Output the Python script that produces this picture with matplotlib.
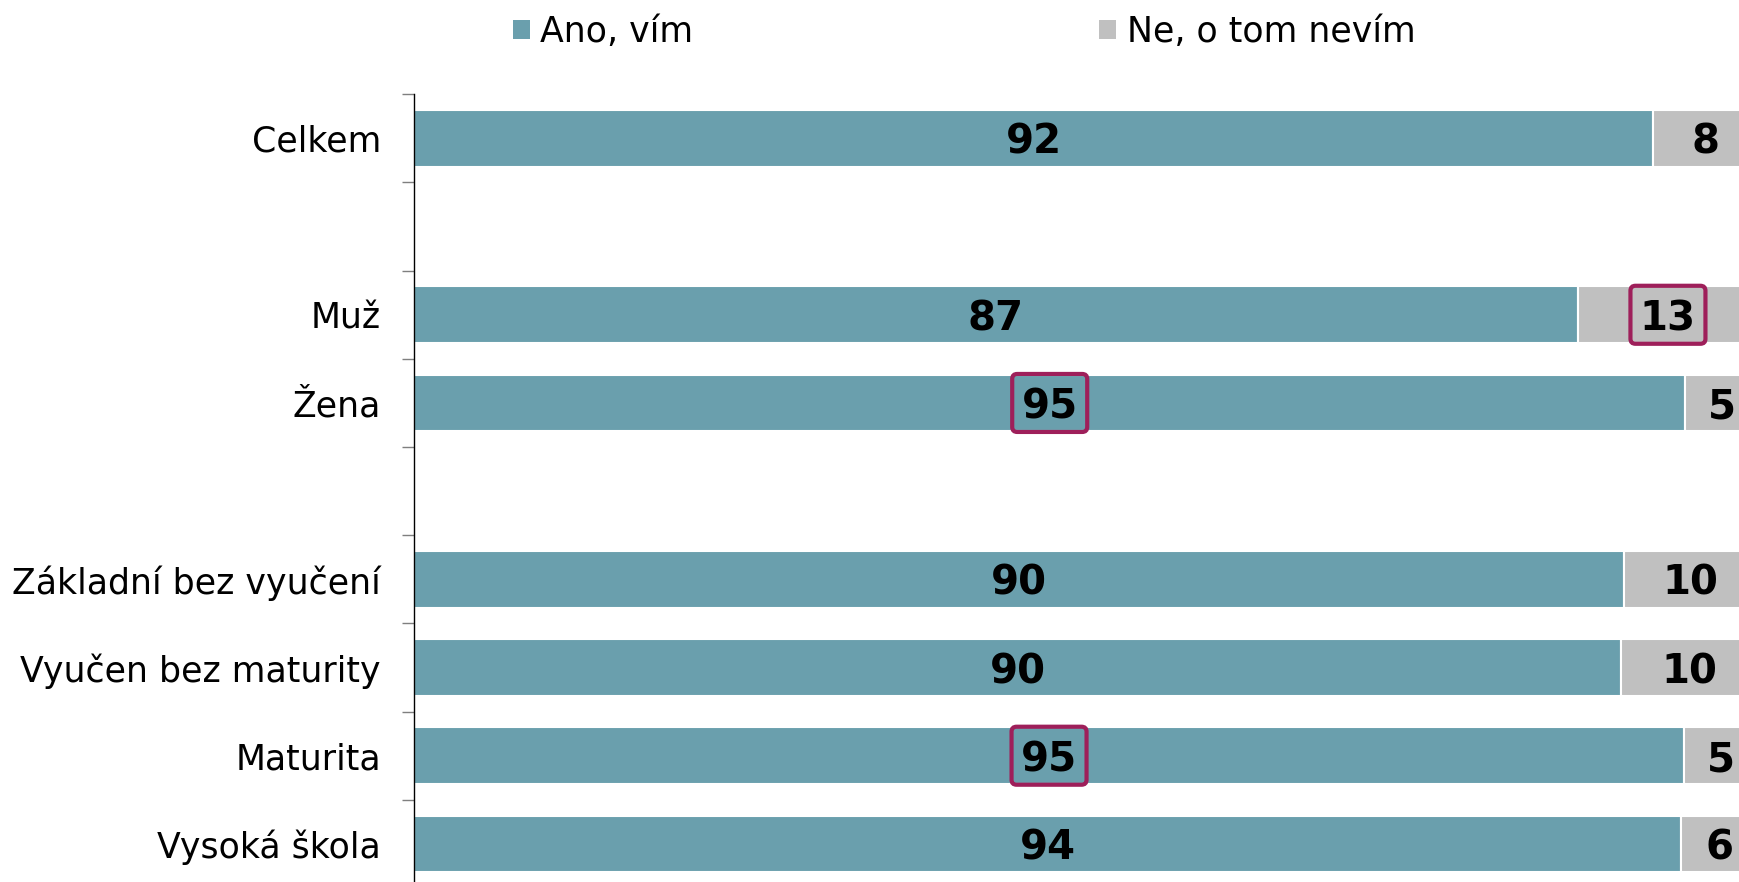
import matplotlib
matplotlib.use("Agg")
import matplotlib.pyplot as plt
from matplotlib.patches import Patch, FancyBboxPatch
from matplotlib.transforms import ScaledTranslation

plt.rcParams['font.family'] = ['DejaVu Sans']

# ---- data ----
categories = ["Celkem", "", "Muž", "Žena", "", "Základní bez vyučení",
              "Vyučen bez maturity", "Maturita", "Vysoká škola"]
ano = [92.2, None, 86.6, 94.6, None, 90.0, 89.8, 94.5, 94.3]
ne = [7.8, None, 13.4, 5.4, None, 10.0, 10.2, 5.5, 5.7]
ano_labels = ["92", "", "87", "95", "", "90", "90", "95", "94"]
ne_labels = ["8", "", "13", "5", "", "10", "10", "5", "6"]
highlight_ano = [False, False, False, True, False, False, False, True, False]
highlight_ne = [False, False, True, False, False, False, False, False, False]
series_names = ["Ano, vím", "Ne, o tom nevím"]

TEAL = "#6A9FAD"
GRAY = "#C0C0C0"
HIGHLIGHT = "#9E1F5A"
LABEL_FS = 29
BOX_W, BOX_H = 0.75, 0.58  # inches

fig = plt.figure(figsize=(17.4, 8.82), dpi=100)
ax = fig.add_axes([414 / 1740, -6 / 882, 1344 / 1740, 793.7 / 882])


def put_label(x, y, s, boxed):
    ax.text(x, y, s, ha="center", va="center_baseline",
            fontsize=LABEL_FS, fontweight="bold", color="black", zorder=4)
    if boxed:
        tr = fig.dpi_scale_trans + ScaledTranslation(x, y, ax.transData)
        box = FancyBboxPatch((-BOX_W / 2, -BOX_H / 2), BOX_W, BOX_H,
                             boxstyle="round,pad=0,rounding_size=0.05",
                             fc="none", ec=HIGHLIGHT, lw=3, transform=tr,
                             zorder=3)
        ax.add_patch(box)


bar_h = 0.643
for i, cat in enumerate(categories):
    if ano[i] is None:
        continue
    ax.barh(i, ano[i], height=bar_h, color=TEAL, edgecolor="white", linewidth=1.5)
    ax.barh(i, ne[i], left=ano[i], height=bar_h, color=GRAY, edgecolor="white", linewidth=1.5)
    put_label(ano[i] / 2, i, ano_labels[i], highlight_ano[i])
    put_label(ano[i] + ne[i] / 2, i, ne_labels[i], highlight_ne[i])

ax.set_xlim(0, 100)
ax.set_ylim(len(categories) - 0.5, -0.5)

ax.set_yticks(range(len(categories)))
ax.set_yticklabels(categories, fontsize=25)
ax.tick_params(axis="y", which="major", length=0, pad=23.8)
ax.set_yticks([k - 0.5 for k in range(len(categories) + 1)], minor=True)
ax.tick_params(axis="y", which="minor", length=8.6, width=1, color="#7f7f7f", direction="out")
ax.set_xticks([])

for s in ["top", "right", "bottom"]:
    ax.spines[s].set_visible(False)
ax.spines["left"].set_color("black")
ax.spines["left"].set_linewidth(1)

handles = [Patch(facecolor=TEAL, edgecolor="none"), Patch(facecolor=GRAY, edgecolor="none")]
fig.legend(handles, series_names, loc="center left",
           bbox_to_anchor=(513 / 1740, 1 - 32 / 882), ncol=2, frameon=False,
           fontsize=25, handlelength=0.49, handleheight=0.49, handletextpad=0.29,
           columnspacing=11.7, borderpad=0, borderaxespad=0)

fig.savefig("out.png", dpi=100)
